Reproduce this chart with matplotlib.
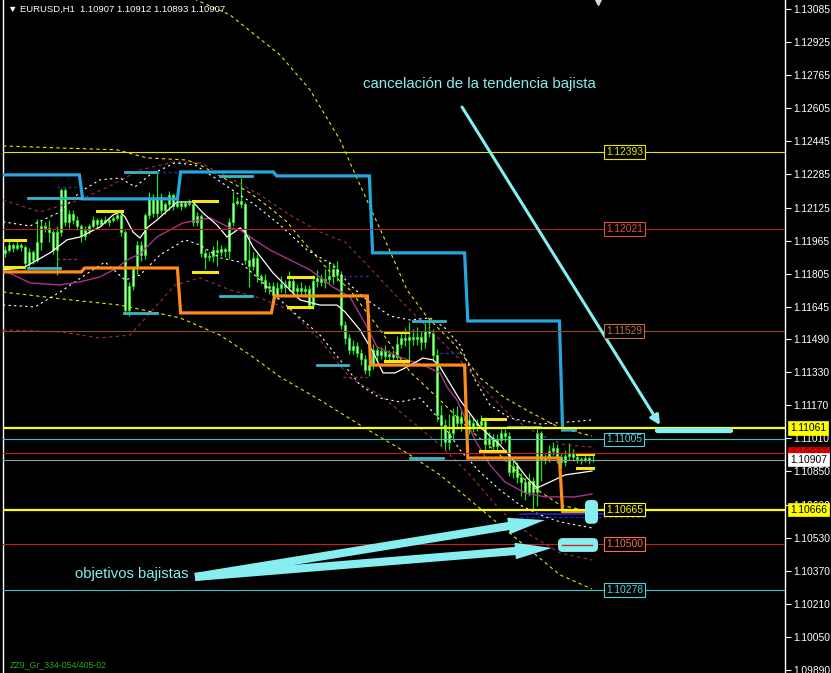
import matplotlib
matplotlib.use('Agg')
import matplotlib.pyplot as plt
from matplotlib.patches import FancyBboxPatch, FancyArrowPatch

plt.rcParams['font.family'] = ['Liberation Sans', 'DejaVu Sans']

# ---- price data (EURUSD H1), x = bar index ----
first_open = 1.11906
closes = [
    1.11920, 1.11944, 1.11930, 1.11944, 1.11935, 1.11857, 1.11911, 1.11872, 1.11959, 1.12036,
    1.12027, 1.12007, 1.11920, 1.12007, 1.12210, 1.12056, 1.12094, 1.12065, 1.12036, 1.11988,
    1.12017, 1.12036, 1.12065, 1.12046, 1.12065, 1.12056, 1.12065, 1.12075, 1.12089, 1.12007,
    1.11630, 1.11746, 1.11833, 1.11944, 1.11896, 1.12089, 1.12172, 1.12099, 1.12177, 1.12114,
    1.12143, 1.12186, 1.12133, 1.12147, 1.12133, 1.12147, 1.12143, 1.12056, 1.12085, 1.11906,
    1.11886, 1.11891, 1.11920, 1.11911, 1.11925, 1.11915, 1.12056, 1.12147, 1.12157, 1.12143,
    1.11872, 1.11843, 1.11882, 1.11795, 1.11775, 1.11737, 1.11746, 1.11703, 1.11737, 1.11756,
    1.11741, 1.11770, 1.11722, 1.11737, 1.11722, 1.11732, 1.11654, 1.11770, 1.11785, 1.11766,
    1.11780, 1.11795, 1.11828, 1.11799, 1.11558, 1.11495, 1.11437, 1.11456, 1.11422, 1.11393,
    1.11340, 1.11364, 1.11437, 1.11413, 1.11432, 1.11408, 1.11418, 1.11403, 1.11466, 1.11495,
    1.11485, 1.11500, 1.11490, 1.11500, 1.11476, 1.11529, 1.11519, 1.11413, 1.11123, 1.11074,
    1.10992, 1.11036, 1.11118, 1.11084, 1.11113, 1.11099, 1.11060, 1.11084, 1.11074, 1.11094,
    1.10983, 1.11012, 1.10973, 1.11002, 1.11036, 1.11021, 1.10847, 1.10876, 1.10823, 1.10799,
    1.10751, 1.10804, 1.10751, 1.11036, 1.10905, 1.10915, 1.10949, 1.10963, 1.10920, 1.10896,
    1.10925, 1.10939, 1.10920, 1.10910, 1.10905, 1.10915, 1.10905, 1.10907]
# wicks above / below the body, in pips
wick_up = [
    2, 2, 1, 2, 1, 1, 2, 1, 11, 3,  2, 4, 1, 3, 1, 1, 2, 2, 2, 1,
    2, 1, 2, 1, 1, 2, 1, 1, 2, 1,   1, 2, 1, 2, 2, 1, 3, 2, 12, 2,
    1, 2, 1, 2, 1, 1, 2, 1, 2, 1,   2, 2, 2, 5, 2, 1, 2, 6, 2, 11,
    1, 12, 3, 2, 1, 3, 2, 2, 3, 4,  2, 5, 2, 2, 3, 2, 2, 3, 4, 2,
    5, 7, 3, 4, 2, 2, 2, 3, 2, 2,   2, 2, 3, 2, 2, 3, 2, 2, 4, 3,
    5, 7, 4, 5, 3, 4, 6, 2, 3, 5,   3, 9, 4, 5, 3, 5, 3, 3, 2, 3,
    2, 3, 2, 3, 2, 2, 2, 3, 2, 2,   2, 4, 2, 2, 1, 2, 3, 3, 2, 2,
    3, 5, 2, 2, 1, 2, 1, 2]
wick_dn = [
    2, 1, 2, 1, 2, 3, 3, 2, 1, 4,   2, 5, 2, 12, 2, 2, 3, 2, 2, 3,
    2, 2, 1, 2, 1, 1, 2, 1, 1, 2,   2, 3, 2, 3, 3, 2, 2, 2, 2, 2,
    2, 3, 2, 1, 2, 1, 1, 2, 2, 2,   6, 2, 3, 7, 2, 3, 4, 2, 1, 2,
    2, 10, 2, 3, 2, 2, 3, 2, 2, 2,  3, 2, 3, 2, 2, 3, 2, 2, 3, 2,
    3, 2, 4, 3, 2, 3, 2, 2, 2, 3,   2, 3, 2, 3, 2, 2, 3, 2, 2, 2,
    3, 10, 3, 3, 4, 3, 2, 3, 3, 10, 4, 4, 3, 3, 4, 2, 3, 2, 3, 2,
    3, 2, 3, 2, 2, 3, 2, 3, 3, 7,   4, 2, 9, 7, 10, 2, 2, 2, 3, 3,
    2, 2, 2, 2, 2, 1, 2, 1]

# ---- step channel lines (bar where level starts, level) ----
cyan_breaks = [-0.5, 19, 43.5, 67.5, 91.5, 115.3, 139, 143]
cyan_levels = [1.12283, 1.12167, 1.12297, 1.12278, 1.11906, 1.11577, 1.11050]
orange_breaks = [-0.5, 19.5, 43.5, 67, 91, 115.3, 139, 146]
orange_levels = [1.11814, 1.11833, 1.11616, 1.11698, 1.11364, 1.10915, 1.10654]

# short levels (start bar, end bar, price)
cyan_short = [(5.75, 13.75, 1.11833), (5.75, 19.25, 1.12172), (29.75, 38, 1.11616),
              (30, 38, 1.12297), (53.75, 61.75, 1.11698), (53.75, 61.75, 1.12278),
              (78, 85.75, 1.11364), (102, 110, 1.11577), (101.25, 109.5, 1.10915),
              (125.75, 133.75, 1.11065)]
yellow_short = [(-0.5, 5, 1.11969), (-0.5, 4.5, 1.11838), (23, 29.25, 1.12109),
                (47, 53, 1.12157), (47, 53, 1.11814), (70.75, 77, 1.11790),
                (70.75, 76.75, 1.11645), (95, 100.75, 1.11524), (95, 100.75, 1.11384),
                (119.25, 125, 1.11104), (118.75, 125, 1.10949), (143, 147, 1.10934),
                (143, 147, 1.10867)]
navy_short = [(13, 18, 1.12225), (38, 43, 1.12297), (84.5, 91.25, 1.11795),
              (108.75, 113.75, 1.11422)]
red_short = [(13, 18, 1.11877), (84.5, 90.5, 1.11307)]

# ---- moving averages and envelopes (bar, price) ----
ma_fast = [(-0.5, 1.11824), (4.5, 1.11833), (11.25, 1.11906), (15.5, 1.11969), (18.75, 1.11983),
           (23.75, 1.12031), (27, 1.12089), (28.75, 1.12104), (30, 1.12080), (32, 1.12007),
           (33.75, 1.11978), (35.75, 1.12031), (38, 1.12065), (43, 1.12152), (47, 1.12152),
           (49.5, 1.12099), (53, 1.12041), (55.5, 1.11983), (57, 1.12002), (58.75, 1.12027),
           (60, 1.12007), (62, 1.11935), (64.5, 1.11872), (67, 1.11809), (69.5, 1.11761),
           (73.75, 1.11679), (78.75, 1.11654), (83, 1.11654), (85, 1.11621), (88.75, 1.11534),
           (92, 1.11427), (94.5, 1.11326), (97.5, 1.11326), (100.5, 1.11355), (104.5, 1.11398),
           (107, 1.11389), (108.75, 1.11355), (113.75, 1.11195), (118.75, 1.11065),
           (123.75, 1.10978), (127.5, 1.10895), (130.5, 1.10819), (133, 1.10770),
           (136.25, 1.10799), (140, 1.10833), (146.75, 1.10852)]
ma_slow = [(-0.5, 1.11824), (6.25, 1.11761), (13.75, 1.11751), (18.75, 1.11766), (23.75, 1.11790),
           (28, 1.11833), (30.5, 1.11872), (33.75, 1.11901), (38, 1.11983), (44.5, 1.12051),
           (51.25, 1.12075), (56.25, 1.12027), (58.75, 1.12017), (61.25, 1.11983), (66.25, 1.11920),
           (71.25, 1.11872), (76.25, 1.11824), (82, 1.11741), (86.25, 1.11693), (90.5, 1.11548),
           (93, 1.11451), (98.75, 1.11403), (105.5, 1.11355), (108.75, 1.11326), (110.5, 1.11258),
           (113, 1.11195), (117.5, 1.11002), (121.25, 1.10881), (125, 1.10799), (130, 1.10746),
           (135, 1.10727), (142.5, 1.10727), (146.75, 1.10741)]
band_white_up = [(-0.5, 1.12056), (6.25, 1.12036), (13.75, 1.12104), (18.75, 1.12201), (23.75, 1.12259),
                 (28.75, 1.12268), (32.5, 1.12225), (36.25, 1.12283), (42.5, 1.12341), (47.5, 1.12331),
                 (52.5, 1.12268), (57.5, 1.12201), (62.5, 1.12138), (68.75, 1.12041), (75.5, 1.11920),
                 (82, 1.11848), (86.25, 1.11751), (90.5, 1.11679), (96.25, 1.11601), (101.25, 1.11582),
                 (106.25, 1.11592), (110, 1.11543), (113.75, 1.11461), (117.5, 1.11292),
                 (121.25, 1.11171), (126.25, 1.11108), (133.75, 1.11079), (141.25, 1.11089),
                 (146.75, 1.11099)]
band_white_dn = [(-0.5, 1.11654), (7.5, 1.11645), (13.75, 1.11717), (20, 1.11799), (25, 1.11862),
                 (30, 1.11775), (33.75, 1.11799), (38.75, 1.11896), (45, 1.11969), (48.75, 1.11944),
                 (53.75, 1.11882), (58.75, 1.11862), (63.75, 1.11775), (68.75, 1.11679),
                 (73.75, 1.11592), (78.75, 1.11509), (83.75, 1.11389), (88.75, 1.11268),
                 (93.75, 1.11205), (98.75, 1.11186), (103.75, 1.11205), (108.75, 1.11099),
                 (113.75, 1.10954), (118.75, 1.10847), (123.75, 1.10760), (128.75, 1.10688),
                 (133.75, 1.10640), (138.75, 1.10606), (146.75, 1.10577)]
band_yellow_a = [(37.5, 1.13177), (45, 1.13153), (56.25, 1.13056), (68.75, 1.12863), (76.25, 1.12694),
                 (83.75, 1.12452), (88.75, 1.12234), (95, 1.11969), (100.5, 1.11727), (105.5, 1.11597),
                 (112.5, 1.11461), (118.75, 1.11302), (125, 1.11205), (131.25, 1.11137),
                 (138.75, 1.11060), (146.75, 1.11021)]
band_yellow_b = [(-0.5, 1.12423), (13.75, 1.12413), (28, 1.12404), (35.5, 1.12365), (45.5, 1.12355),
                 (48.75, 1.12331), (55.5, 1.12259), (61.25, 1.12196), (66.25, 1.12123), (70.5, 1.12056),
                 (73.75, 1.11978), (81.25, 1.11814), (86.25, 1.11727), (93.75, 1.11534),
                 (101.25, 1.11331), (108.75, 1.11195), (116.25, 1.11050), (123.75, 1.10929),
                 (131.25, 1.10785), (138.75, 1.10688), (146.75, 1.10654)]
band_yellow_c = [(-0.5, 1.11717), (16.25, 1.11679), (28.75, 1.11654), (43.75, 1.11592), (53.75, 1.11509),
                 (61.25, 1.11413), (68.75, 1.11307), (78.75, 1.11195), (88.75, 1.11074),
                 (100.5, 1.10939), (108.75, 1.10833), (116.25, 1.10712), (123.75, 1.10591),
                 (131.25, 1.10470), (138.75, 1.10350), (146.75, 1.10282)]
band_red_up = [(-0.5, 1.12162), (8.75, 1.12104), (18.75, 1.12162), (26.25, 1.12230), (33.75, 1.12307),
               (42.5, 1.12346), (48.75, 1.12341), (56.25, 1.12268), (63.75, 1.12186), (71.25, 1.12089),
               (78.75, 1.12007), (85, 1.11959), (91.25, 1.11833), (98.75, 1.11679), (106.25, 1.11534),
               (113.75, 1.11389), (121.25, 1.11219), (127.5, 1.11099), (133.75, 1.11026),
               (140, 1.10978), (146.75, 1.10968)]
band_red_dn = [(-0.5, 1.11534), (13.75, 1.11524), (23.75, 1.11495), (31.25, 1.11509), (36.25, 1.11616),
               (42.5, 1.11751), (48.75, 1.11785), (56.25, 1.11727), (63.75, 1.11688), (71.25, 1.11630),
               (78.75, 1.11485), (86.25, 1.11302), (93.75, 1.11219), (101.25, 1.11099),
               (108.75, 1.10978), (116.25, 1.10833), (123.75, 1.10664), (131.25, 1.10543),
               (138.75, 1.10456), (146.75, 1.10422)]

# horizontal levels: price, line colour, width, chart label, label colour
levels = [
    (1.12393, '#e6e600', 0.8, '1.12393', '#e6e600'),
    (1.12021, '#b41e1e', 0.8, '1.12021', '#e0503a'),
    (1.11529, '#8a4a24', 0.8, '1.11529', '#c0703c'),
    (1.11061, '#ffff00', 1.6, None, None),
    (1.11005, '#40c0c8', 0.8, '1.11005', '#4fd4dc'),
    (1.10937, '#c81e1e', 0.8, None, None),
    (1.10907, '#9a9a9a', 0.8, None, None),
    (1.10666, '#ffff00', 1.6, '1.10665', '#ffff00'),
    (1.10500, '#c81e1e', 0.8, '1.10500', '#ff6a50'),
    (1.10278, '#40c0c8', 0.8, '1.10278', '#4fd4dc'),
]
# price boxes on the right scale: price, text, background, text colour
axis_boxes = [(1.11061, '1.11061', '#ffff00', 'black'),
              (1.10937, '1.10937', '#e00000', '#800000'),
              (1.10907, '1.10907', 'white', 'black'),
              (1.10666, '1.10666', '#ffff00', 'black')]
tick_vals = [1.13085, 1.12925, 1.12765, 1.12605, 1.12445, 1.12285, 1.12125, 1.11965, 1.11805,
             1.11645, 1.11490, 1.11330, 1.11170, 1.11010, 1.10850, 1.10690, 1.10530, 1.10370,
             1.10210, 1.10050, 1.09890]

ANN = '#86eef0'


def plotStep(ax, breaks, lvls, color):
    xs, ys = [], []
    for k, lv in enumerate(lvls):
        xs += [breaks[k] + (0.4 if k > 0 else 0), breaks[k + 1] - 0.4]
        ys += [lv, lv]
    ax.plot(xs, ys, color=color, lw=2.3, zorder=4, solid_joinstyle='miter')


def plotShort(ax, segs, color, lw, ls='-'):
    for x0, x1, p in segs:
        ax.plot([x0, x1], [p, p], color=color, lw=lw, ls=ls, zorder=4)


def plotCurve(ax, pts, color, lw, ls='-'):
    xs, ys = zip(*pts)
    ax.plot(xs, ys, color=color, lw=lw, ls=ls, zorder=3)


def plotCandles(ax):
    opens = [first_open] + closes[:-1]
    idx = list(range(len(closes)))
    highs = [max(o, c) + u * 0.0001 for o, c, u in zip(opens, closes, wick_up)]
    lows = [min(o, c) - d * 0.0001 for o, c, d in zip(opens, closes, wick_dn)]
    ax.vlines(idx, lows, highs, colors='#22dd22', lw=0.9, zorder=2)
    bottoms = [min(o, c) for o, c in zip(opens, closes)]
    heights = [max(abs(c - o), 0.00002) for o, c in zip(opens, closes)]
    ax.bar(idx, heights, bottom=bottoms, width=0.72, color='#bff5b2',
           edgecolor='#1ee01e', linewidth=0.7, zorder=2.2)


def main():
    fig = plt.figure(figsize=(8.31, 6.73), dpi=100, facecolor='black')
    ax = fig.add_axes([3 / 831, 0, 782 / 831, 1])
    ax.set_facecolor('black')
    ax.set_xlim(-0.5, 195)
    ax.set_ylim(1.09876, 1.13128)

    for s in ['top', 'bottom']:
        ax.spines[s].set_visible(False)
    for s in ['left', 'right']:
        ax.spines[s].set_color('white')
        ax.spines[s].set_linewidth(1)
    ax.set_xticks([])
    ax.yaxis.tick_right()
    ax.set_yticks(tick_vals)
    ax.set_yticklabels(['%.5f' % v for v in tick_vals])
    ax.tick_params(axis='y', colors='white', length=4, width=0.8, pad=2, labelsize=7.4)

    # envelopes and averages
    plotCurve(ax, band_yellow_a, '#e8e800', 0.8, (0, (3, 3)))
    plotCurve(ax, band_yellow_b, '#e8e800', 0.8, (0, (3, 3)))
    plotCurve(ax, band_yellow_c, '#e8e800', 0.8, (0, (3, 3)))
    plotCurve(ax, band_red_up, '#a02c52', 0.8, (0, (3, 3)))
    plotCurve(ax, band_red_dn, '#a02c52', 0.8, (0, (3, 3)))
    plotCurve(ax, band_white_up, 'white', 0.8, (0, (2, 3)))
    plotCurve(ax, band_white_dn, 'white', 0.8, (0, (2, 3)))
    plotCurve(ax, ma_slow, '#a8338a', 1.0)
    plotCurve(ax, ma_fast, 'white', 0.9)

    plotCandles(ax)

    plotStep(ax, cyan_breaks, cyan_levels, '#25a8e0')
    plotStep(ax, orange_breaks, orange_levels, '#ff8c1a')
    plotShort(ax, cyan_short, '#3ab6c6', 2.0)
    plotShort(ax, yellow_short, '#f5e614', 2.2)
    plotShort(ax, navy_short, '#2a2ab4', 1.0, (0, (2, 2)))
    plotShort(ax, red_short, '#a02c52', 1.0, (0, (2, 2)))
    plotShort(ax, [(128.75, 160, 1.10644)], '#2020e0', 1.2)
    plotShort(ax, [(128.75, 160, 1.10629)], '#2020c0', 1.0, (0, (2, 2)))

    # horizontal objects with their labels
    for p, col, lw, lab, lcol in levels:
        ax.axhline(p, color=col, lw=lw, zorder=5)
        if lab:
            ax.text(150.25, p, lab, ha='left', va='center', fontsize=7.4, color=lcol, zorder=8,
                    bbox=dict(boxstyle='square,pad=0.18', fc='black', ec=lcol, lw=0.8))
    for p, txt, bg, tc in axis_boxes:
        ax.text(1.0 + 5 / 782, p, txt, transform=ax.get_yaxis_transform(), ha='left',
                va='center', fontsize=7.4, color=tc, clip_on=False, zorder=9,
                bbox=dict(boxstyle='square,pad=0.18', fc=bg, ec=bg, lw=0.5))

    # hand drawn marks
    asp = 4 / 20690
    ax.add_patch(FancyBboxPatch((145, 1.10597), 3.25, 0.00115, boxstyle='round,pad=0,rounding_size=1.2',
                                mutation_aspect=asp, fc=ANN, ec='none', zorder=7))
    ax.add_patch(FancyBboxPatch((138.25, 1.10461), 10, 0.00067, boxstyle='round,pad=0,rounding_size=1.2',
                                mutation_aspect=asp, fc=ANN, ec='none', zorder=7))
    ax.plot([139.25, 146.75], [1.10495, 1.10495], color='#e02020', lw=1, zorder=7.5)
    ax.plot([163, 181.25], [1.11050, 1.11050], color=ANN, lw=3.8, solid_capstyle='round', zorder=7)

    ax.text(89.5, 1.12723, 'cancelación de la tendencia bajista', color=ANN, fontsize=10.8,
            ha='left', va='center', zorder=8)
    ax.add_patch(FancyArrowPatch((114.25, 1.12611), (163.75, 1.11074), arrowstyle='-|>',
                                 mutation_scale=14, color=ANN, lw=2.2, shrinkA=0, shrinkB=0, zorder=7))
    ax.text(17.5, 1.10355, 'objetivos bajistas', color=ANN, fontsize=10.7,
            ha='left', va='center', zorder=8)
    for head in [(135, 1.10615), (136.75, 1.10480)]:
        ax.add_patch(FancyArrowPatch((47.5, 1.10340), head,
                                     arrowstyle='simple,head_length=1.9,head_width=0.85,tail_width=0.42',
                                     mutation_scale=14, fc=ANN, ec='none', shrinkA=0, shrinkB=0, zorder=7))

    # header and indicator caption
    fig.text(8 / 831, 1 - 9 / 673, '\u25bc EURUSD,H1  1.10907 1.10912 1.10893 1.10907',
             color='white', fontsize=6.8, va='center', ha='left')
    ax.plot([0.761], [0.997], marker='v', ms=5, color='#d8d8d8', transform=ax.transAxes,
            clip_on=False, zorder=9)
    fig.text(10 / 831, 1 - 665 / 673, 'ZZ9_Gr_334-054/405-02', color='#1fae1f', fontsize=6.3,
             va='center', ha='left')

    plt.savefig('out.png', dpi=100, facecolor='black')


if __name__ == "__main__":
    main()
